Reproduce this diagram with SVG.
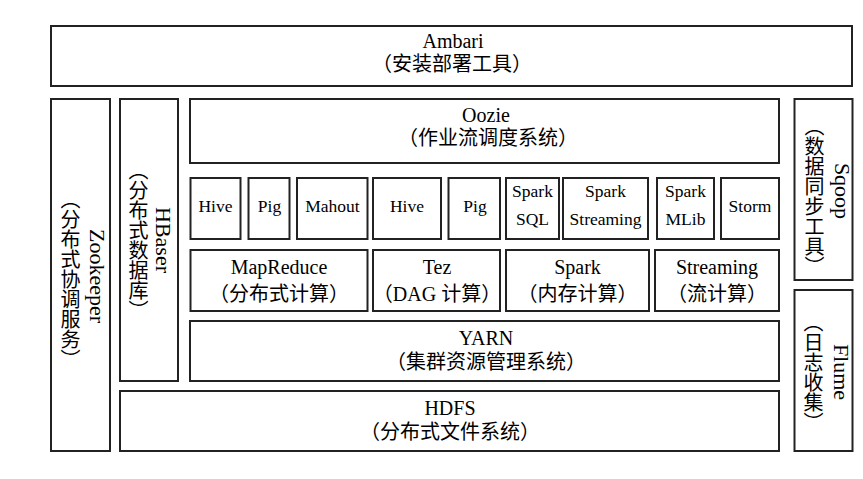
<svg xmlns="http://www.w3.org/2000/svg" width="863" height="479" viewBox="0 0 863 479">
<style>
rect.b{fill:#fff;stroke:#222;stroke-width:2}
text{font-family:"Liberation Serif","Noto Sans CJK SC",serif;fill:#000;text-anchor:middle}
.l{font-size:20px}
.c{font-size:20px}
.s{font-size:17.5px}
.vl{font-size:22px;writing-mode:vertical-rl}
.vc{font-size:20px;writing-mode:vertical-rl}
</style>
<rect x="0" y="0" width="863" height="479" fill="#fff"/>
<g id="ambari"><rect class="b" x="51" y="26" width="801" height="60"/><text class="l" x="453" y="48">Ambari</text><text class="c" x="452" y="71">（安装部署工具）</text></g>
<g id="zookeeper"><rect class="b" x="51" y="99" width="59" height="352"/><text class="vl" x="97" y="276">Zookeeper</text><text class="vc" x="69" y="279">（分布式协调服务）</text></g>
<g id="hbase"><rect class="b" x="120" y="99" width="58" height="282"/><text class="vl" x="163" y="240">HBaser</text><text class="vc" x="137" y="240">（分布式数据库）</text></g>
<g id="oozie"><rect class="b" x="190" y="99" width="589" height="64"/><text class="l" x="486" y="122">Oozie</text><text class="c" x="488" y="145">（作业流调度系统）</text></g>
<g id="hive1"><rect class="b" x="190.5" y="178" width="50" height="61"/><text class="s" x="215.5" y="212">Hive</text></g>
<g id="pig1"><rect class="b" x="248.5" y="178" width="41" height="61"/><text class="s" x="269.5" y="212">Pig</text></g>
<g id="mahout"><rect class="b" x="297" y="178" width="70.5" height="61"/><text class="s" x="332.5" y="212">Mahout</text></g>
<g id="hive2"><rect class="b" x="373" y="178" width="68" height="61"/><text class="s" x="407" y="212">Hive</text></g>
<g id="pig2"><rect class="b" x="448.5" y="178" width="51.5" height="61"/><text class="s" x="475" y="212">Pig</text></g>
<g id="sparksql"><rect class="b" x="506" y="178" width="53" height="61"/><text class="s" x="532.5" y="197">Spark</text><text class="s" x="532.5" y="225">SQL</text></g>
<g id="sparkstreaming"><rect class="b" x="563" y="178" width="85" height="61"/><text class="s" x="605.5" y="197">Spark</text><text class="s" x="605.5" y="225">Streaming</text></g>
<g id="sparkmlib"><rect class="b" x="657" y="178" width="57" height="61"/><text class="s" x="685.5" y="197">Spark</text><text class="s" x="685.5" y="225">MLib</text></g>
<g id="storm"><rect class="b" x="721" y="178" width="58" height="61"/><text class="s" x="750" y="212">Storm</text></g>
<g id="mapreduce"><rect class="b" x="190.5" y="250" width="177" height="61"/><text class="l" x="279" y="274">MapReduce</text><text class="c" x="279" y="301">（分布式计算）</text></g>
<g id="tez"><rect class="b" x="373" y="250" width="127" height="61"/><text class="l" x="437" y="274">Tez</text><text class="c" x="437" y="301">（DAG 计算）</text></g>
<g id="spark"><rect class="b" x="506" y="250" width="143" height="61"/><text class="l" x="577.5" y="274">Spark</text><text class="c" x="577.5" y="301">（内存计算）</text></g>
<g id="streaming"><rect class="b" x="655" y="250" width="124" height="61"/><text class="l" x="717" y="274">Streaming</text><text class="c" x="717" y="301">（流计算）</text></g>
<g id="yarn"><rect class="b" x="190" y="321" width="589" height="60"/><text class="l" x="486" y="345">YARN</text><text class="c" x="486" y="369">（集群资源管理系统）</text></g>
<g id="hdfs"><rect class="b" x="120" y="391" width="659" height="60"/><text class="l" x="450" y="415">HDFS</text><text class="c" x="450" y="439">（分布式文件系统）</text></g>
<g id="sqoop"><rect class="b" x="794.5" y="99" width="58" height="181"/><text class="vl" x="842" y="191">Sqoop</text><text class="vc" x="813" y="196">（数据同步工具）</text></g>
<g id="flume"><rect class="b" x="794.5" y="290" width="58" height="161"/><text class="vl" x="841" y="372">Flume</text><text class="vc" x="812" y="372">（日志收集）</text></g>
<g id="connectors"></g>
</svg>
